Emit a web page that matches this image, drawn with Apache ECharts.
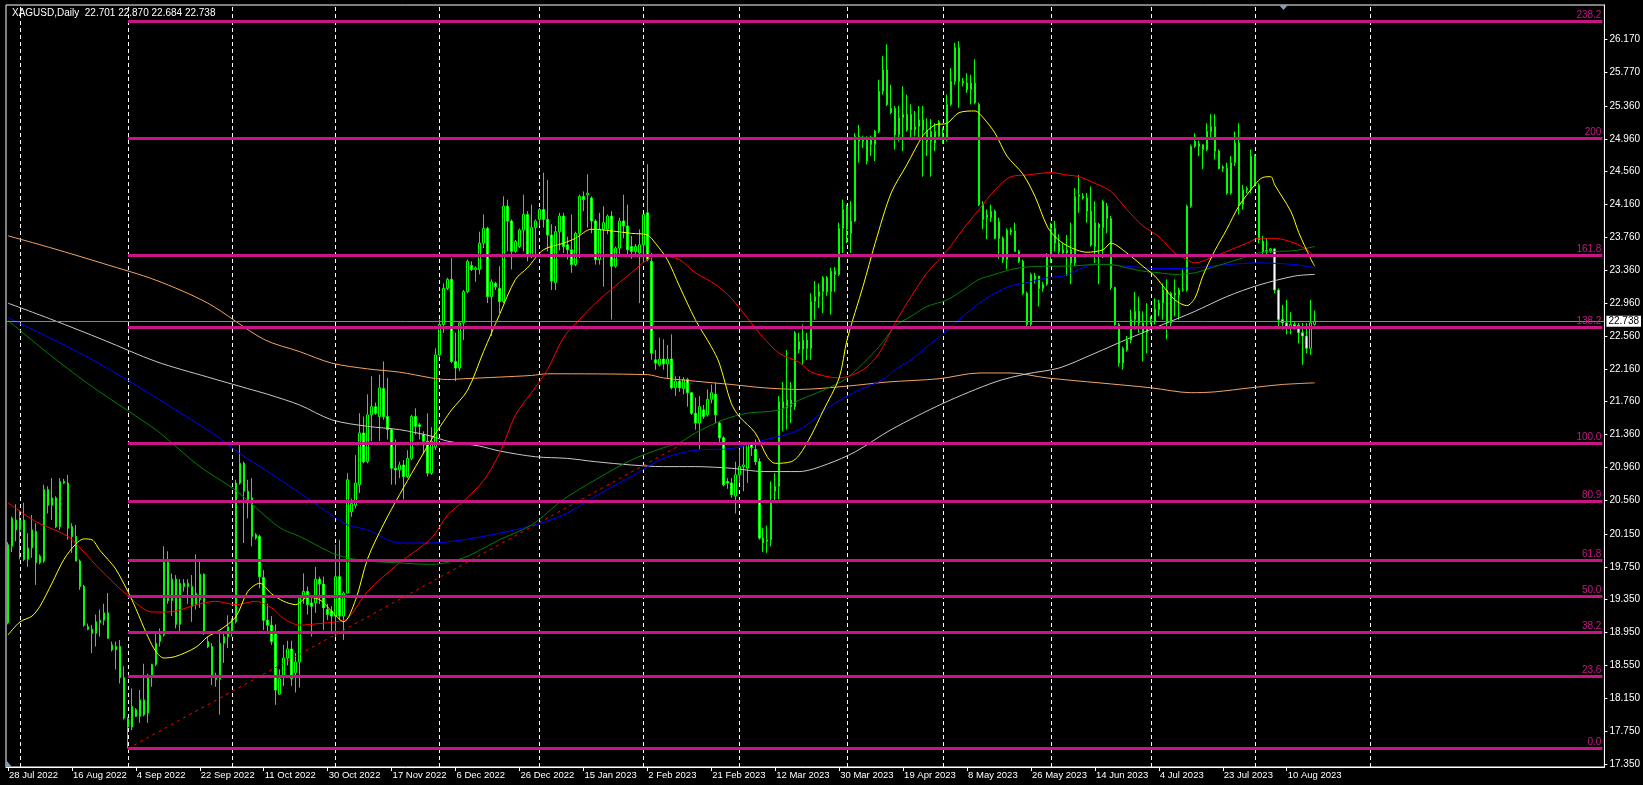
<!DOCTYPE html>
<html>
<head>
<meta charset="utf-8">
<title>XAGUSD, Daily</title>
<script src="https://cdn.jsdelivr.net/npm/echarts@6/dist/echarts.min.js"></script>
<style>
  html, body { margin: 0; padding: 0; background: #000; }
  #chart { width: 1643px; height: 785px; }
</style>
</head>
<body>
<div id="chart"></div>
<script>
// bars: [open, high, low, close], one per trading day from 28 Jul 2022
const ohlc = [
  [19.07,20.05,19.05,20.02],[20.00,20.36,19.93,20.34],[20.32,20.51,20.06,20.20],[20.20,20.44,19.84,20.32],[20.32,20.53,19.82,19.84],
  [19.84,20.16,19.75,19.98],[19.98,20.38,19.86,20.20],[20.18,20.28,19.53,19.80],[19.80,19.90,19.78,19.88],[19.82,20.75,19.80,20.69],
  [20.69,20.73,20.40,20.50],[20.50,20.83,20.32,20.59],[20.59,20.61,20.22,20.24],[20.24,20.83,20.20,20.79],[20.77,20.82,20.76,20.79],
  [20.77,20.87,20.08,20.22],[20.24,20.28,19.92,20.12],[20.12,20.26,19.90,19.82],[19.82,19.84,19.47,19.51],[19.51,19.53,19.02,19.04],
  [19.02,19.06,18.98,18.99],[18.99,19.04,18.70,18.94],[18.94,19.17,18.78,19.08],[19.07,19.23,18.90,19.10],[19.10,19.30,19.04,19.19],
  [19.19,19.43,18.88,18.88],[18.80,18.84,18.72,18.74],[18.74,18.84,18.50,18.78],[18.78,18.86,18.33,18.40],[18.40,18.54,17.89,17.91],
  [17.90,17.92,17.54,17.80],[17.80,18.27,17.76,18.05],[18.01,18.03,17.92,17.93],[17.93,18.25,17.85,18.13],[18.13,18.57,17.93,17.95],
  [17.97,18.45,17.85,18.43],[18.42,18.57,18.29,18.56],[18.56,18.94,18.54,18.82],[18.84,19.00,18.78,18.92],[18.92,20.00,18.90,19.84],
  [19.84,19.94,19.30,19.34],[19.34,19.67,19.15,19.60],[19.60,19.65,19.00,19.05],[19.05,19.60,18.96,19.55],[19.55,19.60,19.45,19.51],
  [19.51,19.60,19.30,19.55],[19.51,19.65,19.08,19.27],[19.29,19.90,19.23,19.43],[19.35,19.83,19.25,19.66],[19.66,19.67,18.92,18.94],
  [18.84,18.90,18.76,18.78],[18.78,18.82,18.31,18.42],[18.42,18.46,18.29,18.38],[18.38,18.94,17.95,18.82],[18.82,18.94,18.58,18.90],
  [18.90,19.16,18.76,19.02],[18.96,19.12,18.90,19.10],[19.08,20.81,19.06,20.77],[20.77,21.24,20.75,21.01],[21.01,21.03,20.04,20.67],
  [20.67,20.81,20.34,20.57],[20.59,20.83,20.00,20.12],[20.14,20.16,20.08,20.10],[20.12,20.14,19.49,19.63],[19.62,19.71,18.98,19.10],
  [19.10,19.30,18.95,19.04],[19.04,19.15,18.80,18.84],[18.96,19.05,18.07,18.25],[18.20,18.50,18.19,18.39],[18.43,18.80,18.30,18.64],
  [18.64,18.85,18.55,18.75],[18.75,18.85,18.30,18.39],[18.46,18.70,18.22,18.59],[18.59,19.40,18.28,19.37],[19.39,19.67,19.30,19.45],
  [19.45,19.51,19.17,19.29],[19.31,19.39,18.90,19.27],[19.31,19.75,19.19,19.60],[19.60,19.63,19.30,19.54],[19.54,19.63,18.98,19.25],
  [19.23,19.30,19.10,19.17],[19.21,19.27,18.94,19.15],[19.15,20.02,18.90,19.63],[19.63,20.08,19.10,19.15],[19.15,19.45,18.86,19.43],
  [19.43,20.89,19.43,20.81],[20.42,20.58,20.36,20.52],[20.50,21.11,20.46,20.77],[20.75,21.62,20.65,21.38],[21.38,21.58,21.01,21.03],
  [21.03,21.85,21.01,21.60],[21.60,22.07,21.28,21.70],[21.70,21.75,21.60,21.62],[21.58,22.09,21.28,21.93],[21.92,22.25,21.54,21.58],
  [21.58,22.05,21.30,21.42],[21.42,21.44,20.75,20.95],[20.95,21.30,20.75,20.93],[20.93,21.03,20.83,20.99],[20.99,21.05,20.57,20.85],
  [20.85,21.17,20.83,21.07],[21.07,21.60,21.05,21.58],[21.58,21.68,21.36,21.46],[21.48,21.50,21.30,21.46],[21.36,21.40,21.13,21.28],
  [21.28,21.62,20.85,20.89],[20.89,21.45,20.87,21.28],[21.21,22.41,21.17,22.33],[22.33,22.76,22.31,22.70],[22.70,23.20,22.60,23.14],
  [23.14,23.27,23.12,23.25],[23.25,23.51,22.23,22.25],[22.25,22.60,22.01,22.17],[22.17,22.74,22.13,22.72],[22.72,23.12,22.51,23.10],
  [23.10,23.49,23.08,23.47],[23.42,23.47,23.35,23.37],[23.37,23.41,23.22,23.39],[23.37,23.83,23.31,23.69],[23.69,24.04,23.63,23.87],
  [23.87,23.89,22.96,23.04],[23.04,23.25,22.56,23.22],[23.20,23.22,23.12,23.16],[23.14,23.41,22.84,22.98],[22.98,24.26,22.96,24.14],
  [24.14,24.22,23.59,23.96],[23.96,23.98,23.37,23.59],[23.59,23.73,23.57,23.71],[23.65,23.87,23.63,23.85],[23.85,24.28,23.59,24.04],
  [24.04,24.08,23.47,23.53],[23.53,24.16,23.51,23.88],[23.88,23.98,23.55,23.96],[23.98,24.12,23.90,24.10],[24.10,24.55,23.88,23.98],
  [23.98,24.46,23.59,23.79],[23.79,23.92,23.12,23.23],[23.21,23.90,23.12,23.83],[23.83,24.06,23.60,24.02],[24.02,24.06,23.57,23.65],
  [23.67,23.77,23.49,23.61],[23.61,24.04,23.33,23.43],[23.43,23.83,23.41,23.81],[23.81,24.28,23.51,24.26],[24.26,24.32,24.08,24.22],
  [24.28,24.53,23.88,24.30],[24.24,24.26,23.81,23.96],[23.96,23.98,23.43,23.49],[23.49,24.06,23.43,23.86],[23.86,24.14,23.16,23.94],
  [23.86,24.04,23.80,24.02],[24.02,24.08,22.76,23.41],[23.41,23.65,23.39,23.63],[23.63,24.00,23.55,23.96],[23.96,24.28,23.75,23.90],
  [23.90,24.16,23.55,23.61],[23.65,23.78,23.50,23.59],[23.59,23.68,23.56,23.65],[23.57,23.86,22.96,23.67],[23.67,24.04,23.45,24.04],
  [24.06,24.65,23.47,23.49],[23.47,23.57,22.27,22.35],[22.27,22.39,22.15,22.23],[22.21,22.54,22.19,22.28],[22.28,22.52,22.15,22.22],
  [22.22,22.45,22.05,22.28],[22.28,22.58,21.91,21.93],[21.93,22.07,21.83,22.01],[22.01,22.07,21.88,21.93],[21.92,22.06,21.85,22.03],
  [22.03,22.05,21.70,21.87],[21.87,21.88,21.60,21.62],[21.62,21.81,21.42,21.50],[21.50,21.83,21.18,21.70],[21.66,21.72,21.55,21.58],
  [21.60,21.91,21.58,21.79],[21.79,21.97,21.74,21.87],[21.85,21.99,21.50,21.60],[21.50,21.52,21.26,21.32],[21.32,21.34,20.73,20.75],
  [20.79,20.83,20.70,20.77],[20.77,20.83,20.59,20.63],[20.61,21.03,20.40,20.87],[20.87,21.18,20.77,20.97],[20.97,21.22,20.67,20.99],
  [20.95,21.26,20.77,21.26],[21.24,21.27,21.10,21.20],[21.18,21.30,20.99,21.03],[21.03,21.07,20.08,20.10],[20.10,20.22,19.93,20.04],
  [20.06,20.25,19.92,20.08],[20.08,20.79,20.00,20.53],[20.67,20.89,20.55,20.73],[20.73,21.83,20.57,21.76],[21.76,22.00,21.40,21.68],
  [21.68,22.39,21.42,21.78],[21.78,22.00,21.50,21.70],[21.70,22.62,21.66,22.60],[22.49,22.60,22.35,22.40],[22.40,22.70,22.21,22.51],
  [22.51,22.60,22.27,22.41],[22.41,23.08,22.27,22.98],[22.98,23.23,22.76,23.04],[23.04,23.20,22.90,23.10],[23.10,23.29,22.84,23.27],
  [23.27,23.29,23.05,23.10],[23.10,23.39,22.82,23.35],[23.35,23.40,23.10,23.31],[23.31,23.94,23.29,23.87],[23.87,24.22,23.57,24.10],
  [24.14,24.16,23.69,23.86],[23.81,24.20,23.57,23.96],[23.96,25.03,23.95,24.99],[24.99,25.13,24.67,24.93],[24.93,25.00,24.85,24.97],
  [24.95,24.99,24.65,24.69],[24.89,25.00,24.75,24.95],[24.89,25.07,24.69,25.05],[25.05,25.68,25.03,25.54],[25.54,25.97,25.50,25.80],
  [25.80,26.11,25.36,25.38],[25.33,25.62,25.26,25.28],[25.33,25.36,24.83,25.01],[25.01,25.36,24.93,25.22],[25.22,25.60,24.81,25.26],
  [25.26,25.50,25.05,25.07],[25.26,25.38,24.97,25.07],[25.07,25.30,24.99,25.11],[25.11,25.36,24.95,25.19],[25.19,25.36,24.50,25.07],
  [25.07,25.21,24.75,24.93],[24.93,25.20,24.50,25.05],[24.91,25.15,24.81,25.05],[24.99,25.19,24.95,25.17],[24.99,25.10,24.90,24.97],
  [24.97,25.50,24.93,25.38],[25.38,25.82,25.36,25.66],[25.66,26.13,25.62,26.07],[26.07,26.15,25.34,25.66],[25.66,25.70,25.60,25.64],
  [25.64,25.76,25.52,25.56],[25.56,25.74,25.38,25.64],[25.64,25.93,25.38,25.40],[25.38,25.40,24.14,24.16],[24.16,24.20,23.86,23.98],
  [24.00,24.10,23.74,24.04],[24.00,24.16,23.95,24.08],[24.08,24.10,23.74,23.75],[23.95,24.00,23.50,23.75],[23.75,23.77,23.45,23.49],
  [23.49,23.87,23.37,23.85],[23.85,23.88,23.79,23.83],[23.84,23.94,23.59,23.59],[23.59,23.61,23.45,23.47],[23.47,23.49,23.06,23.08],
  [23.08,23.10,22.68,22.70],[22.70,23.33,22.68,23.31],[23.29,23.33,23.20,23.25],[23.29,23.29,22.92,23.14],[23.14,23.22,23.10,23.19],
  [23.19,23.57,23.17,23.55],[23.55,23.94,23.45,23.87],[23.87,23.96,23.59,23.69],[23.69,23.80,23.55,23.59],[23.61,23.69,23.53,23.57],
  [23.57,23.79,23.29,23.61],[23.61,23.94,23.19,23.45],[23.45,24.36,23.41,24.26],[24.26,24.52,24.06,24.28],[24.26,24.30,24.22,24.24],
  [24.24,24.30,23.94,24.08],[24.08,24.38,23.65,23.67],[23.65,24.20,23.45,23.94],[23.92,23.94,23.19,23.88],[23.88,24.22,23.51,24.20],
  [24.14,24.18,23.81,23.99],[23.99,24.02,23.12,23.15],[23.15,23.16,22.68,22.70],[22.70,22.72,22.19,22.23],[22.23,22.43,22.15,22.41],
  [22.39,22.56,22.37,22.51],[22.51,22.88,22.47,22.76],[22.76,23.10,22.64,22.86],[22.86,23.04,22.60,22.72],[22.72,22.86,22.25,22.60],
  [22.60,22.96,22.35,22.68],[22.72,22.80,22.70,22.75],[22.74,23.02,22.70,22.89],[22.88,23.00,22.80,22.96],[22.96,23.20,22.76,23.12],
  [23.12,23.25,22.52,22.72],[22.72,23.10,22.66,23.08],[23.08,23.25,22.80,23.06],[23.06,23.15,22.76,23.12],[23.12,23.37,23.10,23.13],
  [23.12,24.16,23.10,24.14],[24.14,24.89,24.12,24.87],[24.87,25.03,24.85,24.93],[24.90,24.94,24.75,24.87],[24.89,24.89,24.59,24.83],
  [24.83,25.15,24.81,25.05],[25.05,25.26,24.95,25.11],[25.11,25.26,24.71,24.81],[24.81,24.83,24.59,24.60],[24.60,24.64,24.56,24.62],
  [24.60,24.67,24.28,24.30],[24.30,24.75,24.28,24.67],[24.67,25.05,24.63,24.91],[24.91,25.15,24.04,24.16],[24.16,24.40,24.10,24.34],
  [24.34,24.38,24.30,24.36],[24.34,24.83,24.30,24.75],[24.75,24.77,24.38,24.40],[24.40,24.42,23.69,23.73],[23.71,23.78,23.53,23.59],
  [23.59,23.75,23.55,23.60],[23.60,23.63,23.57,23.62],[23.62,23.63,23.08,23.12],[23.12,23.14,22.68,22.76],[22.76,22.94,22.64,22.72],
  [22.72,23.00,22.58,22.68],[22.68,22.85,22.58,22.70],[22.70,22.73,22.64,22.68],[22.69,22.72,22.47,22.60],[22.60,22.72,22.21,22.56],
  [22.56,22.72,22.35,22.41],[22.41,23.00,22.33,22.72],[22.701,22.870,22.684,22.738]
];

// moving averages: [bar index, price]
const maYellow = [[0,18.92],[3,19.08],[6,19.15],[8,19.27],[11,19.55],[14,19.84],[17,20.03],[19,20.09],[21,20.08],[23,19.95],
  [25,19.84],[27,19.72],[30,19.45],[32,19.24],[35,18.9],[37,18.72],[39,18.64],[42,18.66],[47,18.77],[50,18.9],[53,18.98],
  [57,19.14],[60,19.45],[63,19.55],[66,19.42],[69,19.33],[72,19.29],[75,19.38],[78,19.35],[81,19.21],[84,19.08],[87,19.35],
  [90,19.85],[94,20.27],[98,20.63],[102,20.97],[106,21.3],[109,21.52],[111,21.66],[115,21.9],[119,22.37],[123,22.82],
  [127,23.25],[130,23.39],[134,23.61],[139,23.69],[142,23.75],[146,23.86],[151,23.84],[156,23.81],[160,23.79],[162,23.69],
  [165,23.49],[168,23.17],[172,22.76],[176,22.43],[178,22.23],[181,21.74],[183,21.58],[187,21.38],[190,21.09],[192,21.01],
  [196,21.03],[198,21.11],[201,21.35],[204,21.65],[208,22.05],[210,22.52],[214,23.17],[217,23.69],[221,24.3],[225,24.65],
  [229,25.0],[232,25.13],[235,25.15],[238,25.28],[242,25.3],[244,25.22],[247,25.03],[250,24.75],[254,24.53],[257,24.26],
  [260,23.9],[262,23.77],[265,23.66],[270,23.58],[274,23.61],[276,23.69],[280,23.57],[284,23.41],[287,23.29],[289,23.17],
  [292,23.0],[295,22.93],[297,23.02],[299,23.29],[302,23.6],[305,23.86],[308,24.14],[312,24.4],[314,24.49],[316,24.5],
  [317,24.4],[321,24.08],[323,23.82],[326,23.5],[327,23.41]];
const maRed = [[0,20.53],[7,20.3],[15,20.12],[19,19.93],[23,19.72],[30,19.4],[36,19.2],[40,19.2],[48,19.3],[52,19.33],
  [57,19.29],[62,19.33],[66,19.25],[69,19.12],[73,19.04],[78,19.06],[82,19.08],[85,19.12],[90,19.45],[98,19.8],[106,20.1],
  [110,20.38],[114,20.55],[119,20.8],[123,21.13],[127,21.6],[131,21.87],[135,22.15],[139,22.54],[143,22.76],[147,22.96],
  [152,23.17],[156,23.33],[160,23.49],[163,23.54],[168,23.49],[172,23.33],[177,23.19],[181,23.02],[185,22.78],[189,22.54],
  [193,22.35],[198,22.24],[201,22.12],[208,22.05],[214,22.15],[218,22.35],[222,22.72],[226,23.04],[230,23.33],[235,23.6],
  [239,23.86],[243,24.1],[247,24.34],[251,24.5],[255,24.52],[261,24.55],[265,24.52],[268,24.5],[272,24.42],[276,24.32],
  [280,24.1],[284,23.9],[288,23.77],[292,23.57],[295,23.49],[297,23.45],[301,23.51],[305,23.59],[310,23.69],[313,23.75],
  [317,23.75],[322,23.69],[325,23.61],[327,23.53]];
const maGreen = [[0,22.75],[10,22.35],[20,21.98],[30,21.65],[37,21.42],[40,21.3],[48,20.97],[57,20.68],[66,20.3],[69,20.2],
  [73,20.12],[81,19.92],[85,19.86],[90,19.82],[97,19.8],[106,19.78],[114,19.86],[123,20.08],[131,20.26],[139,20.57],
  [147,20.81],[156,21.05],[164,21.2],[168,21.26],[172,21.38],[179,21.54],[185,21.62],[193,21.66],[198,21.78],[204,21.9],
  [210,22.05],[218,22.43],[222,22.68],[226,22.8],[230,22.92],[235,23.0],[239,23.12],[243,23.25],[247,23.31],[251,23.37],
  [255,23.4],[260,23.41],[265,23.41],[272,23.43],[276,23.43],[280,23.39],[284,23.35],[288,23.33],[292,23.31],[297,23.33],
  [301,23.39],[305,23.45],[309,23.51],[313,23.57],[317,23.59],[322,23.6],[327,23.65]];
const maBlue = [[0,22.78],[10,22.55],[20,22.3],[30,22.02],[40,21.72],[52,21.35],[58,21.13],[65,20.91],[73,20.65],[81,20.38],
  [85,20.26],[90,20.2],[98,20.04],[106,20.04],[114,20.08],[123,20.16],[131,20.25],[139,20.38],[147,20.61],[156,20.85],
  [164,21.07],[172,21.17],[181,21.19],[189,21.29],[198,21.42],[205,21.68],[212,21.88],[219,22.03],[222,22.15],[226,22.27],
  [230,22.43],[235,22.63],[239,22.8],[243,22.96],[247,23.08],[251,23.17],[255,23.21],[260,23.27],[264,23.29],[272,23.43],
  [280,23.41],[288,23.38],[297,23.39],[305,23.43],[313,23.45],[322,23.43],[327,23.39]];
const maSilver = [[0,22.96],[11,22.76],[24,22.51],[37,22.25],[50,22.06],[60,21.92],[65,21.85],[73,21.72],[81,21.54],
  [90,21.46],[98,21.42],[106,21.34],[110,21.28],[118,21.22],[123,21.16],[132,21.09],[140,21.07],[147,21.03],[156,20.99],
  [164,20.97],[172,20.97],[181,20.95],[189,20.91],[198,20.91],[205,21.0],[212,21.15],[221,21.42],[234,21.74],[247,22.0],
  [255,22.1],[263,22.17],[272,22.35],[280,22.52],[288,22.68],[297,22.86],[305,23.04],[313,23.18],[322,23.29],[327,23.31]];
const maOrange = [[0,23.78],[11,23.63],[24,23.44],[37,23.24],[50,22.96],[64,22.52],[73,22.37],[81,22.23],[90,22.16],
  [98,22.12],[106,22.05],[110,22.03],[114,22.04],[123,22.06],[131,22.08],[135,22.1],[160,22.09],[164,22.05],[172,22.01],
  [181,21.97],[189,21.93],[198,21.91],[210,21.95],[220,22.0],[233,22.04],[243,22.11],[251,22.11],[260,22.05],[273,21.99],
  [286,21.93],[296,21.87],[302,21.88],[311,21.93],[319,21.97],[327,21.99]];

// fibonacci retracement drawn on the chart
const fibLow = 17.537, fibHigh = 21.252;
const fibStartBar = 30, fibEndBar = 169;
const fibPercents = [0, 23.6, 38.2, 50, 61.8, 80.9, 100, 138.2, 161.8, 200, 238.2];
const fibLabels = ['0.0', '23.6', '38.2', '50.0', '61.8', '80.9', '100.0', '138.2', '161.8', '200', '238.2'];

// price scale labels on the right
const priceTicks = [17.35, 17.75, 18.15, 18.55, 18.95, 19.35, 19.75, 20.15, 20.56, 20.96, 21.36, 21.76,
  22.16, 22.56, 22.96, 23.36, 23.76, 24.16, 24.56, 24.96, 25.36, 25.77, 26.17];

const symbolTitle = 'XAGUSD,Daily  22.701 22.870 22.684 22.738';

// trading calendar: Sun-Fri bars, a few closed days; after the last bar one slot per day
const MONTHS = ['Jan','Feb','Mar','Apr','May','Jun','Jul','Aug','Sep','Oct','Nov','Dec'];
const closedDays = ['2022-12-25', '2023-01-01', '2023-04-07', '2023-06-19'];
const firstDay = Date.UTC(2022, 6, 28);
const lastDay = Date.UTC(2023, 7, 18);
const gridUntil = Date.UTC(2023, 8, 1);
const slotCount = 400;
const dates = [];
const monthStarts = [];
let prevMonth = -1;
for (let t = firstDay; dates.length < slotCount; t += 86400000) {
  const d = new Date(t);
  const iso = d.toISOString().slice(0, 10);
  if (t <= lastDay && (d.getUTCDay() === 6 || closedDays.includes(iso))) continue;
  const label = d.getUTCDate() + ' ' + MONTHS[d.getUTCMonth()] + ' ' + d.getUTCFullYear();
  if (prevMonth !== -1 && d.getUTCMonth() !== prevMonth && t <= gridUntil) monthStarts.push(label);
  prevMonth = d.getUTCMonth();
  dates.push(label);
}

const lastBar = ohlc.length - 1;
const lastClose = ohlc[lastBar][3];
const FONT = 'Liberation Sans';
const FIB = '#C71585';

const chart = echarts.init(document.getElementById('chart'));

function maSeries(name, data, color) {
  return {
    name, type: 'line', data, showSymbol: false, smooth: 0.3, silent: true, z: 3,
    lineStyle: { color, width: 1 }, animation: false
  };
}

const fibLines = fibPercents.map((pct, k) => {
  const level = fibLow + (fibHigh - fibLow) * pct / 100;
  return [
    { coord: [dates[fibStartBar], level],
      lineStyle: { color: FIB, width: 3, type: 'solid' },
      label: { show: true, position: 'insideEndTop', formatter: fibLabels[k], color: FIB,
               fontFamily: FONT, fontSize: 10, distance: 1 } },
    { coord: [dates[slotCount - 1], level] }
  ];
});

const option = {
  backgroundColor: '#000',
  animation: false,
  textStyle: { fontFamily: FONT },
  grid: { left: 6, right: 37, top: 5, bottom: 18, show: true, borderColor: '#fff', borderWidth: 1 },
  xAxis: {
    type: 'category', data: dates, boundaryGap: true,
    axisLine: { lineStyle: { color: '#fff' } },
    axisTick: { show: true, alignWithLabel: true, length: 4, lineStyle: { color: '#fff' },
                interval: (i) => i % 16 === 0 && i <= lastBar },
    axisLabel: { color: '#fff', fontSize: 9.5, fontFamily: FONT, align: 'left', margin: 3, padding: [0, 0, 0, 1],
                 interval: (i) => i % 16 === 0 && i <= lastBar },
    splitLine: { show: false }
  },
  yAxis: {
    type: 'value', position: 'right', min: 17.313, max: 26.59,
    axisLine: { show: true, lineStyle: { color: '#fff' } },
    axisTick: { show: true, length: 3, customValues: priceTicks, lineStyle: { color: '#fff' } },
    axisLabel: { color: '#fff', fontSize: 10, fontFamily: FONT, margin: 5, customValues: priceTicks,
                 formatter: (v) => v.toFixed(3) },
    splitLine: { show: false }
  },
  graphic: [
    { type: 'text', left: 12, top: 8, silent: true,
      style: { text: symbolTitle, fill: '#fff', font: '10px ' + FONT } },
    // chart shift marker and the small corner marker of the terminal
    { type: 'polygon', silent: true, shape: { points: [[1279, 5], [1288, 5], [1283.5, 10]] },
      style: { fill: '#8a9aa8' } },
    { type: 'polygon', silent: true, shape: { points: [[6, 760], [6, 767], [12, 767]] },
      style: { fill: '#8a9aa8' } }
  ],
  series: [
    {
      name: 'XAGUSD', type: 'candlestick', barWidth: 2, z: 2,
      data: ohlc.map(r => [r[0], r[3], r[2], r[1]]),
      itemStyle: { color: '#000', color0: '#fff', borderColor: '#00ff00', borderColor0: '#00ff00', borderWidth: 1 },
      markLine: {
        silent: true, symbol: 'none', z: 1, animation: false,
        label: { show: false },
        lineStyle: { color: '#fff', type: [4, 3], width: 1 },
        data: monthStarts.map(m => ({ xAxis: m }))
      }
    },
    maSeries('MA orange', maOrange, '#f4a460'),
    maSeries('MA silver', maSilver, '#c8c8c8'),
    maSeries('MA blue', maBlue, '#0000ff'),
    maSeries('MA green', maGreen, '#008000'),
    maSeries('MA red', maRed, '#ff0000'),
    maSeries('MA yellow', maYellow, '#ffff00'),
    {
      name: 'objects', type: 'line', data: [], z: 4, silent: true,
      markLine: {
        silent: true, symbol: 'none', z: 6, animation: false,
        data: fibLines.concat([
          [
            { coord: [dates[fibStartBar], fibLow], lineStyle: { color: '#ff0000', type: [3, 4], width: 1 },
              label: { show: false } },
            { coord: [dates[fibEndBar], fibHigh] }
          ],
          { yAxis: lastClose, lineStyle: { color: '#778899', type: 'solid', width: 1 },
            label: { show: true, position: 'end', formatter: lastClose.toFixed(3), color: '#000',
                     backgroundColor: '#fff', padding: [1, 2, 0, 2], fontFamily: FONT, fontSize: 10, distance: 2 } }
        ])
      }
    }
  ]
};

chart.setOption(option);
</script>
</body>
</html>
